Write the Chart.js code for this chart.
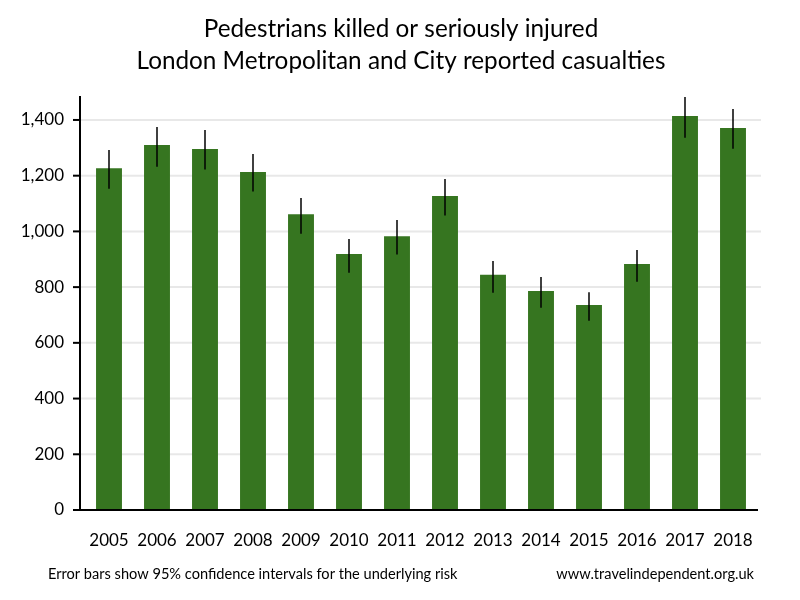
<!DOCTYPE html>
<html>
<head>
<meta charset="utf-8">
<script src="https://cdn.jsdelivr.net/npm/chart.js@4/dist/chart.umd.min.js"></script>
<style>
html,body{margin:0;padding:0;background:#fff;}
#wrap{width:800px;height:600px;}
</style>
</head>
<body>
<div id="wrap"><canvas id="c" width="800" height="600"></canvas></div>
<script>
const categories = ['2005','2006','2007','2008','2009','2010','2011','2012','2013','2014','2015','2016','2017','2018'];
const values   = [1227,1310,1296,1213,1062,919,983,1127,844,786,736,883,1414,1371];
const errLow   = [1153,1232,1222,1143,992,852,917,1057,780,726,679,819,1336,1297];
const errHigh  = [1292,1375,1364,1278,1120,973,1041,1188,894,836,782,933,1482,1439];
const yTicks   = [0,200,400,600,800,1000,1200,1400];
const titleLines = ['Pedestrians killed or seriously injured','London Metropolitan and City reported casualties'];
const footLeft = 'Error bars show 95% confidence intervals for the underlying risk';
const footRight = 'www.travelindependent.org.uk';

const FONT = 'Lato, "Open Sans", sans-serif';

const decor = {
  id: 'decor',
  beforeDatasetsDraw(chart) {
    const ctx = chart.ctx, a = chart.chartArea, y = chart.scales.y;
    ctx.save();
    ctx.strokeStyle = '#e8e8e8';
    ctx.lineWidth = 2;
    yTicks.forEach(v => {
      if (v === 0) return;
      const py = y.getPixelForValue(v);
      ctx.beginPath(); ctx.moveTo(a.left - 5, py); ctx.lineTo(a.right + 4, py); ctx.stroke();
    });
    ctx.strokeStyle = '#000';
    ctx.lineWidth = 2;
    ctx.beginPath(); ctx.moveTo(a.left - 5, a.top); ctx.lineTo(a.left - 5, a.bottom); ctx.stroke();
    yTicks.forEach(v => {
      const py = y.getPixelForValue(v);
      ctx.beginPath(); ctx.moveTo(a.left - 12, py); ctx.lineTo(a.left - 5, py); ctx.stroke();
    });
    ctx.restore();
  },
  afterDatasetsDraw(chart) {
    const ctx = chart.ctx, a = chart.chartArea, y = chart.scales.y;
    const meta = chart.getDatasetMeta(0);
    ctx.save();
    ctx.strokeStyle = '#000';
    ctx.lineWidth = 2;
    ctx.beginPath(); ctx.moveTo(a.left - 12, a.bottom); ctx.lineTo(a.right + 1, a.bottom); ctx.stroke();
    ctx.lineWidth = 1.5;
    meta.data.forEach((bar, i) => {
      const x = bar.x;
      ctx.beginPath();
      ctx.moveTo(x, y.getPixelForValue(errHigh[i]));
      ctx.lineTo(x, y.getPixelForValue(errLow[i]));
      ctx.stroke();
    });
    ctx.fillStyle = '#000';
    ctx.font = '24.3px ' + FONT;
    ctx.textAlign = 'center';
    ctx.textBaseline = 'alphabetic';
    ctx.fillText(titleLines[0], 401, 36.5);
    ctx.fillText(titleLines[1], 401, 69);
    ctx.font = '14.6px ' + FONT;
    ctx.textAlign = 'left';
    ctx.fillText(footLeft, 48, 579);
    ctx.textAlign = 'right';
    ctx.fillText(footRight, 754, 579);
    ctx.restore();
  }
};

new Chart(document.getElementById('c'), {
  type: 'bar',
  data: {
    labels: categories,
    datasets: [{
      data: values,
      backgroundColor: '#367520',
      borderWidth: 0,
      categoryPercentage: 1.0,
      barPercentage: 0.54
    }]
  },
  options: {
    responsive: false,
    animation: false,
    events: [],
    layout: { padding: { top: 96, right: 43, bottom: 0, left: 0 } },
    plugins: { legend: { display: false }, title: { display: false }, tooltip: { enabled: false } },
    scales: {
      x: {
        grid: { display: false, drawTicks: false },
        border: { display: false },
        ticks: { color: '#000', font: { family: FONT, size: 17 }, padding: 20, maxRotation: 0, autoSkip: false },
        afterFit(s) { s.height = 90; }
      },
      y: {
        min: 0,
        max: 1486,
        grid: { display: false, drawTicks: false },
        border: { display: false },
        afterBuildTicks(s) { s.ticks = yTicks.map(v => ({ value: v })); },
        ticks: {
          color: '#000',
          font: { family: FONT, size: 17 },
          padding: 21,
          callback(v) { return v.toLocaleString('en-US'); }
        },
        afterFit(s) { s.width = 85; }
      }
    }
  },
  plugins: [decor]
});
</script>
</body>
</html>
